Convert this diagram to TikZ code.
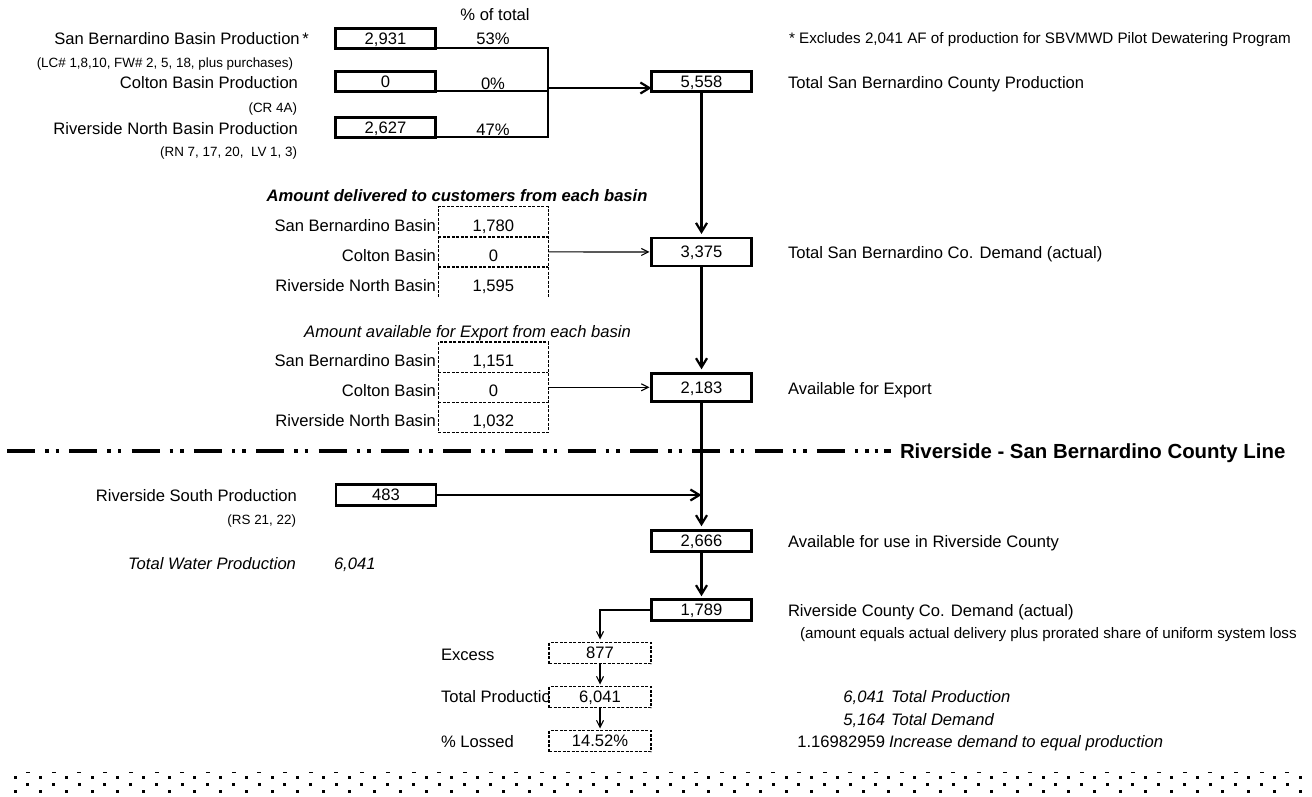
\documentclass[tikz,border=0pt]{standalone}
\usepackage{fontspec}
\setmainfont{Liberation Sans}
\usetikzlibrary{arrows.meta}
\begin{document}
\begin{tikzpicture}[x=1pt,y=-1pt,
  txt/.style={inner sep=0pt, outer sep=0pt, font=\fontsize{16.6}{19}\selectfont, text height=11.9pt, text depth=0pt},
  txtit/.style={txt, font=\fontsize{16.6}{19}\selectfont\itshape},
  txtbi/.style={txt, font=\fontsize{16.6}{19}\selectfont\bfseries\itshape},
  txtmd/.style={inner sep=0pt, outer sep=0pt, font=\fontsize{15.2}{18}\selectfont, text height=10.9pt, text depth=0pt},
  txtsm/.style={inner sep=0pt, outer sep=0pt, font=\fontsize{13.4}{16}\selectfont, text height=9.6pt, text depth=0pt},
  txtbig/.style={inner sep=0pt, outer sep=0pt, font=\fontsize{20.4}{24}\selectfont\bfseries, text height=14.6pt, text depth=0pt},
  bx/.style={draw, line width=2.8pt, fill=white, minimum width=100pt, minimum height=19.5pt, inner sep=0pt, outer sep=0pt, font=\fontsize{16.6}{19}\selectfont, text height=11.9pt, text depth=0pt},
  bxt/.style={bx, minimum height=28pt},
  bxm/.style={bx, minimum height=21.5pt},
  celll/.style={line width=1.6pt, dash pattern=on 3pt off 1.5pt},
  cellopen/.style={minimum width=110pt, minimum height=30.2pt, inner sep=0pt, outer sep=0pt},
  ebx/.style={celll, draw, fill=white, minimum width=102pt, minimum height=21pt, inner sep=0pt, outer sep=0pt, font=\fontsize{16.6}{19}\selectfont, text height=11.9pt, text depth=0pt},
  thk/.style={line width=2.2pt},
  thkarr/.style={thk, -{Straight Barb[length=9pt,width=11pt]}},
  thn/.style={line width=1.1pt},
  thnarr/.style={thn, -{Straight Barb[length=7pt,width=7pt]}},
  county/.style={line width=3.5pt, dash pattern=on 28pt off 10pt on 3.5pt off 7pt on 3.5pt off 10.3pt},
  dotsq/.style={fill=black}
]
\useasboundingbox (0,0) rectangle (1312,796);
\fill[white] (0,0) rectangle (1312,796);

% ---------- top section ----------
\node[txt] (pct) at (495,14.5) {\% of total};
\node[txt, anchor=east] (l1) at (309,38.5) {San Bernardino Basin Production\,*};
\node[txtsm, anchor=east] (l1s) at (293,63) {(LC\# 1,8,10, FW\# 2, 5, 18, plus purchases)};
\node[txt, anchor=east] (l2) at (298,82.5) {Colton Basin Production};
\node[txtsm, anchor=east] (l2s) at (297,108) {(CR 4A)};
\node[txt, anchor=east] (l3) at (298,128.5) {Riverside North Basin Production};
\node[txtsm, anchor=east] (l3s) at (297,152) {(RN 7, 17, 20,\ \ LV 1, 3)};

\node[bx] (b1) at (385.5,38.5) {2,931};
\node[bx] (b2) at (385.5,81.5) {0};
\node[bx] (b3) at (385.5,127.5) {2,627};
\node[txt] (p1) at (493,38.5) {53\%};
\node[txt] (p2) at (493,83.5) {0\%};
\node[txt] (p3) at (493,129.5) {47\%};

\node[bx] (t1) at (701.5,81.5) {5,558};
\node[txtmd, anchor=west] (fn) at (789,38.5) {* Excludes 2,041 AF of production for SBVMWD Pilot Dewatering Program};
\node[txt, anchor=west] (r1) at (788,83) {Total San Bernardino County Production};

\coordinate (jx) at (548,0);
\coordinate (ja) at ([yshift=-6.5pt]t1.west);
\draw[thk] (b1.south east) -- (b1.south east -| jx) -- (b3.south east -| jx) -- (b3.south east);
\draw[thk] (b2.south east) -- (b2.south east -| jx);
\draw[thkarr] (ja -| jx) -- (ja);

% ---------- delivered ----------
\node[txtbi] (h1) at (457,195.5) {Amount delivered to customers from each basin};
\node[cellopen] (d1a) at (493.4,221.7) {};
\node[cellopen] (d1b) at (493.4,251.9) {};
\node[cellopen] (d1c) at (493.4,282.1) {};
\draw[celll] (d1c.south west) -- (d1a.north west) -- (d1a.north east) -- (d1c.south east);
\draw[celll] (d1a.south west) -- (d1a.south east);
\draw[celll] (d1b.south west) -- (d1b.south east);
\node[txt, anchor=east] (s1a) at (436,225.5) {San Bernardino Basin};
\node[txt, anchor=east] (s1b) at (436,255.5) {Colton Basin};
\node[txt, anchor=east] (s1c) at (436,285.5) {Riverside North Basin};
\node[txt] (v1a) at (493.4,225.5) {1,780};
\node[txt] (v1b) at (493.4,255.5) {0};
\node[txt] (v1c) at (493.4,285.5) {1,595};
\node[bxt] (t2) at (701.5,252) {3,375};
\node[txt, anchor=west] (r2) at (788,253) {Total San Bernardino Co. Demand (actual)};
\draw[thnarr, shorten >=2pt] (d1b) -- (t2);
\draw[thkarr, shorten >=4pt] (t1.south) -- (t2.north);

% ---------- export ----------
\node[txtit] (h2) at (467.5,331.5) {Amount available for Export from each basin};
\node[cellopen] (d2a) at (493.4,357.3) {};
\node[cellopen] (d2b) at (493.4,387.3) {};
\node[cellopen] (d2c) at (493.4,417.3) {};
\draw[celll] (d2a.north west) rectangle (d2c.south east);
\draw[celll] (d2a.south west) -- (d2a.south east);
\draw[celll] (d2b.south west) -- (d2b.south east);
\node[txt, anchor=east] (s2a) at (436,361) {San Bernardino Basin};
\node[txt, anchor=east] (s2b) at (436,391) {Colton Basin};
\node[txt, anchor=east] (s2c) at (436,421) {Riverside North Basin};
\node[txt] (v2a) at (493.4,361) {1,151};
\node[txt] (v2b) at (493.4,391) {0};
\node[txt] (v2c) at (493.4,421) {1,032};
\node[bxt] (t3) at (701.5,387.3) {2,183};
\node[txt, anchor=west] (r3) at (788,388.5) {Available for Export};
\draw[thnarr, shorten >=2pt] (d2b) -- (t3);
\draw[thkarr, shorten >=4pt] (t2.south) -- (t3.north);

% ---------- county line ----------
\coordinate (cla) at (7,451);
\coordinate (clb) at (870,451);
\draw[county] (cla) -- (clb);
\draw[line width=3.5pt] (874.5,451) -- (878,451);
\draw[line width=3.5pt] (884,451) -- (891,451);
\node[txtbig, anchor=west] (cty) at (900,451) {Riverside - San Bernardino County Line};

% ---------- riverside ----------
\node[txt, anchor=east] (lrs) at (297,495.5) {Riverside South Production};
\node[txtsm, anchor=east] (lrs2) at (296,520) {(RS 21, 22)};
\node[txtit, anchor=east] (ltw) at (296,564) {Total Water Production};
\node[txtit, anchor=west] (ltw2) at (334,564) {6,041};
\node[bxm] (b4) at (386,495) {483};
\node[bxm] (t4) at (701.5,541) {2,666};
\node[bxm] (t5) at (701.5,610) {1,789};
\node[txt, anchor=west] (r4) at (788,542) {Available for use in Riverside County};
\node[txt, anchor=west] (r5) at (788,611) {Riverside County Co. Demand (actual)};
\node[txtmd, anchor=west] (r6) at (800,633) {(amount equals actual delivery plus prorated share of uniform system loss};

\draw[thkarr, shorten >=4pt] (t3.south) -- (t4.north);
\draw[thkarr] (b4.east) -- (b4.east -| t3.south);
\draw[thkarr, shorten >=3pt] (t4.south) -- (t5.north);

% ---------- losses ----------
\node[txt, anchor=west] (le) at (441,655) {Excess};
\node[txt, anchor=west] (lt) at (441,697) {Total Production};
\node[txt, anchor=west] (lp) at (441,742) {\% Lossed};
\node[ebx] (e) at (600,653) {877};
\node[ebx] (tp) at (600,697) {6,041};
\node[ebx] (pl) at (600,741) {14.52\%};
\draw[thnarr, shorten >=3pt] (t5.west) -| (e.north);
\draw[thnarr, shorten >=2pt] (e.south) -- (tp.north);
\draw[thnarr, shorten >=2pt] (tp.south) -- (pl.north);

\node[txtit, anchor=east] (n1) at (885,697) {6,041};
\node[txtit, anchor=west] (n1t) at (891,697) {Total Production};
\node[txtit, anchor=east] (n2) at (885,720) {5,164};
\node[txtit, anchor=west] (n2t) at (891,720) {Total Demand};
\node[txt, anchor=east] (n3) at (885,742) {1.16982959};
\node[txtit, anchor=west] (n3t) at (889,742) {Increase demand to equal production};

% ---------- bottom pattern ----------
\foreach \k in {0,...,50} {
  \fill[dotsq] (13.5+25.7*\k,775.5) rectangle ++(3,3);
  \fill[dotsq] (13.5+25.7*\k,789.5) rectangle ++(3,3);
}
\foreach \k in {0,...,49} {
  \fill[dotsq] (26+25.7*\k,771.5) rectangle ++(4,1);
  \fill[dotsq] (26.3+25.7*\k,782.5) rectangle ++(3,3);
}
\end{tikzpicture}
\end{document}
